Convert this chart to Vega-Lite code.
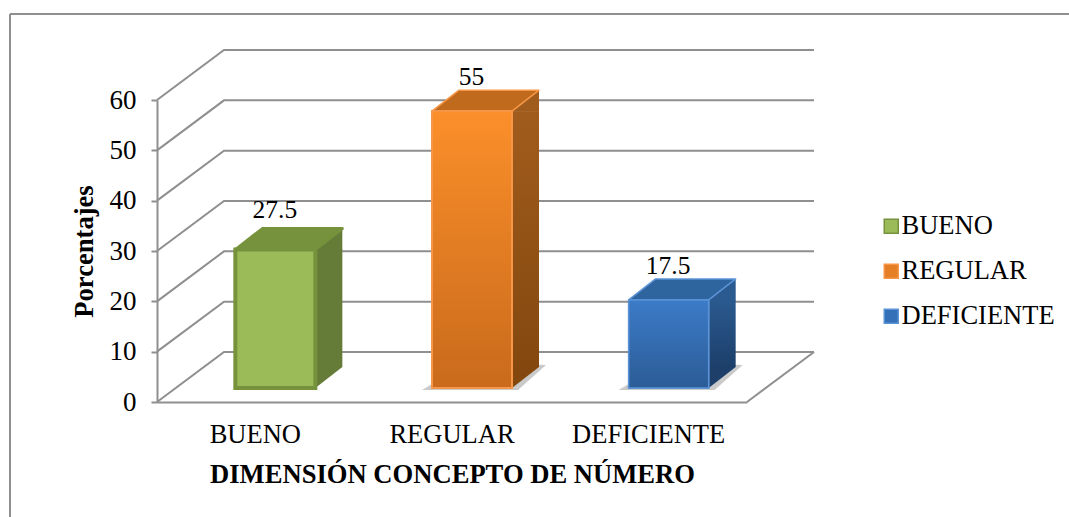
{
"$schema":"https://vega.github.io/schema/vega-lite/v6.json",
"width":590,"height":302,
"autosize":{"type":"none"},
"padding":{"left":157,"top":100,"right":322,"bottom":115},
"background":"white",
"config":{"view":{"stroke":null}},
"datasets":{
"barras":[{"categoria":"BUENO","valor":27.5},{"categoria":"REGULAR","valor":55},{"categoria":"DEFICIENTE","valor":17.5}],
"marcas":[{"marca":0},{"marca":10},{"marca":20},{"marca":30},{"marca":40},{"marca":50},{"marca":60}]
},
"data":{"name":"barras"},
"encoding":{
"x":{"field":"categoria","type":"nominal","sort":null,"scale":{"type":"band","paddingInner":0,"paddingOuter":0,"domain":["BUENO","REGULAR","DEFICIENTE"]},
"axis":{"title":"DIMENSIÓN CONCEPTO DE NÚMERO","titleFont":"Liberation Serif","titleFontSize":26.6,"titleFontWeight":"bold","titleColor":"black","titlePadding":14,"labelFont":"Liberation Serif","labelFontSize":26.5,"labelColor":"black","labelAngle":0,"labelPadding":19,"ticks":false,"domainColor":"#8f8f8f","domainWidth":2,"grid":false}},
"y":{"field":"valor","type":"quantitative","scale":{"domain":[0,60],"nice":false},
"axis":{"title":"Porcentajes","titleFont":"Liberation Serif","titleFontSize":26.6,"titleFontWeight":"bold","titleColor":"black","titlePadding":11,"labelFont":"Liberation Serif","labelFontSize":27,"labelColor":"black","labelPadding":15,"tickSize":6,"tickWidth":2,"tickColor":"#8f8f8f","domainColor":"#8f8f8f","domainWidth":2,"grid":false,"values":[0,10,20,30,40,50,60]}}
},
"layer":[
{"data":{"name":"marcas"},
 "mark":{"type":"point","shape":"M0,0L67,-50L657,-50","size":4,"filled":false,"stroke":"#8f8f8f","strokeWidth":2,"opacity":1},
 "encoding":{"x":{"datum":"BUENO","type":"nominal","bandPosition":0},"y":{"field":"marca","type":"quantitative"}}},
{"data":{"name":"marcas"},"transform":[{"filter":"datum.marca==0"}],
 "mark":{"type":"point","shape":"M590,0L657,-50","size":4,"filled":false,"stroke":"#8f8f8f","strokeWidth":2,"opacity":1},
 "encoding":{"x":{"datum":"BUENO","type":"nominal","bandPosition":0},"y":{"field":"marca","type":"quantitative"}}},
{"data":{"name":"marcas"},"transform":[{"filter":"datum.marca==60"}],
 "mark":{"type":"point","shape":"M-147,-86L912,-86M-147,-86L-147,417","size":4,"filled":false,"stroke":"#8f8f8f","strokeWidth":2,"opacity":1},
 "encoding":{"x":{"datum":"BUENO","type":"nominal","bandPosition":0},"y":{"field":"marca","type":"quantitative"}}},
{"transform":[{"filter":"datum.categoria!='BUENO'"}],
 "mark":{"type":"point","shape":"M-30,-12L-20,-18L70,-38L94,-37L66,-12Z","size":4,"filled":true,"fill":"#8a8a8a","opacity":0.45,"strokeWidth":0},
 "encoding":{"y":{"datum":0,"type":"quantitative"}}},
{"mark":{"type":"bar","width":27,"xOffset":73.5,"yOffset":-14,"y2Offset":-35},
 "encoding":{"y2":{"datum":0},
 "fill":{"condition":[
 {"test":"datum.categoria=='BUENO'","value":"#657c38"},
 {"test":"datum.categoria=='REGULAR'","value":{"gradient":"linear","x1":0,"y1":0,"x2":0,"y2":1,"stops":[{"offset":0,"color":"#a05c1c"},{"offset":1,"color":"#84480f"}]}}],
 "value":{"gradient":"linear","x1":0,"y1":0,"x2":0,"y2":1,"stops":[{"offset":0,"color":"#2a5a90"},{"offset":1,"color":"#1d3f6a"}]}}}},
{"mark":{"type":"point","shape":"M60,-14L87,-35L87,-13.5L60,-13.5Z","size":4,"filled":true,"strokeWidth":0,"opacity":1},
 "encoding":{"fill":{"condition":[{"test":"datum.categoria=='BUENO'","value":"#657c38"},{"test":"datum.categoria=='REGULAR'","value":"#a05c1c"}],"value":"#2a5a90"}}},
{"mark":{"type":"point","shape":"M60,-14L87,-35L60,-35.5Z","size":4,"filled":true,"strokeWidth":0,"opacity":1},
 "encoding":{"y":{"datum":0,"type":"quantitative"},"fill":{"condition":[{"test":"datum.categoria=='BUENO'","value":"#657c38"},{"test":"datum.categoria=='REGULAR'","value":"#84480f"}],"value":"#1d3f6a"}}},
{"mark":{"type":"point","shape":"M-20,-14L7,-35L87,-35L60,-14Z","size":4,"filled":true,"opacity":1,"strokeJoin":"round"},
 "encoding":{"fill":{"condition":[{"test":"datum.categoria=='BUENO'","value":"#76923c"},{"test":"datum.categoria=='REGULAR'","value":"#c06a1e"}],"value":"#2f659f"},
 "stroke":{"condition":[{"test":"datum.categoria=='BUENO'","value":"#76923c"},{"test":"datum.categoria=='REGULAR'","value":"#f79646"}],"value":"#5b93d6"},
 "strokeWidth":{"condition":{"test":"datum.categoria=='BUENO'","value":3},"value":1.5}}},
{"mark":{"type":"bar","width":80,"xOffset":20,"yOffset":-14,"y2Offset":-14},
 "encoding":{"y2":{"datum":0},
 "fill":{"field":"categoria","type":"nominal","sort":null,
  "scale":{"domain":["BUENO","REGULAR","DEFICIENTE"],"range":["#9bbb59","#e57f26","#3470b8"]},
  "legend":{"orient":"none","legendX":721,"legendY":113,"title":null,"symbolType":"square","symbolSize":196,"labelFont":"Liberation Serif","labelFontSize":26.5,"labelColor":"black","labelLimit":300,"labelOffset":-3,"rowPadding":18,"symbolOpacity":1}},
 "stroke":{"field":"categoria","type":"nominal","sort":null,"scale":{"domain":["BUENO","REGULAR","DEFICIENTE"],"range":["#76923c","#f79646","#5b93d6"]},"legend":{"orient":"none","legendX":721,"legendY":113,"title":null}},
 "strokeWidth":{"condition":[{"test":"datum.categoria=='BUENO'","value":4},{"test":"datum.categoria=='REGULAR'","value":2}],"value":1.5}}},
{"transform":[{"filter":"datum.categoria!='BUENO'"}],
 "mark":{"type":"bar","width":80,"xOffset":20,"yOffset":-14,"y2Offset":-14},
 "encoding":{"y2":{"datum":0},
 "fill":{"condition":{"test":"datum.categoria=='REGULAR'","value":{"gradient":"linear","x1":0,"y1":0,"x2":0,"y2":1,"stops":[{"offset":0,"color":"#fb8f2a"},{"offset":1,"color":"#c96a1c"}]}},
 "value":{"gradient":"linear","x1":0,"y1":0,"x2":0,"y2":1,"stops":[{"offset":0,"color":"#3c7bc8"},{"offset":1,"color":"#2b5c96"}]}},
 "stroke":{"condition":{"test":"datum.categoria=='REGULAR'","value":"#f79646"},"value":"#5b93d6"},
 "strokeWidth":{"condition":{"test":"datum.categoria=='REGULAR'","value":2},"value":1.5}}},
{"transform":[{"filter":"datum.categoria=='BUENO'"}],
 "mark":{"type":"text","font":"Liberation Serif","fontSize":25.5,"fill":"black","baseline":"alphabetic","xOffset":19.5,"yOffset":-46},
 "encoding":{"text":{"field":"valor","type":"quantitative"}}},
{"transform":[{"filter":"datum.categoria!='BUENO'"}],
 "mark":{"type":"text","font":"Liberation Serif","fontSize":25.5,"fill":"black","baseline":"alphabetic","xOffset":19.5,"yOffset":-40},
 "encoding":{"text":{"field":"valor","type":"quantitative"}}}
]
}
